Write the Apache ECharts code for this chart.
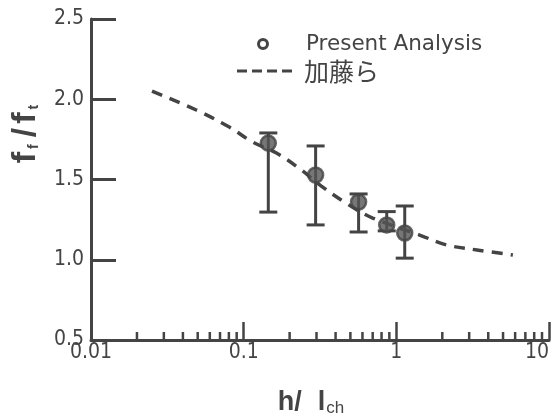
<!DOCTYPE html>
<html><head><meta charset="utf-8">
<script src="https://cdn.jsdelivr.net/npm/echarts@6/dist/echarts.min.js"></script>
<style>html,body{margin:0;padding:0;background:#fff}#c{width:558px;height:420px}</style>
</head><body><div id="c"></div>
<script>
// Present Analysis points (h/lch, ff/ft) with error bars
const xPoints = [0.145, 0.296, 0.566, 0.865, 1.135];
const yPoints = [1.727, 1.528, 1.36, 1.217, 1.167];
const yHigh   = [1.79, 1.709, 1.41, 1.30, 1.335];
const yLow    = [1.297, 1.217, 1.173, 1.18, 1.01];
// 加藤ら curve
const curveX = [0.0251, 0.0489, 0.0805, 0.114, 0.164, 0.239, 0.321, 0.49, 0.70, 1.42, 2.14, 3.37, 5.8];
const curveY = [2.051, 1.933, 1.827, 1.734, 1.665, 1.559, 1.46, 1.341, 1.26, 1.154, 1.092, 1.061, 1.03];
// axes
const xTickLabels = ['0.01', '0.1', '1', '10'];
const yTickLabels = ['0.5', '1.0', '1.5', '2.0', '2.5'];
const minorTickValues = [0.02,0.03,0.04,0.05,0.06,0.07,0.08,0.09,
                         0.2,0.3,0.4,0.5,0.6,0.7,0.8,0.9,
                         2,3,4,5,6,7,8,9];
const seriesNames = ['Present Analysis', '加藤ら'];

const INK = '#444';
const LBL = "'Liberation Sans Narrow','DejaVu Sans Condensed','Liberation Sans',sans-serif";
const SANS = "'Liberation Sans',sans-serif";

const chart = echarts.init(document.getElementById('c'), null, {renderer: 'canvas'});
const option = {
  backgroundColor: '#fff',
  animation: false,
  grid: {left: 91, right: 9, top: 19, bottom: 80, containLabel: false, outerBoundsMode: 'none'},
  xAxis: {
    type: 'log', logBase: 10, min: 0.01, max: 10,
    axisLine: {show: true, lineStyle: {color: INK, width: 3}},
    axisTick: {show: true, inside: true, length: 18, lineStyle: {color: INK, width: 2.5}},
    axisLabel: {color: INK, fontSize: 21, fontFamily: LBL, margin: 2, alignMaxLabel: 'right',
      formatter: function (v) {
        const i = Math.round(Math.log10(v) + 2);
        return xTickLabels[i] !== undefined ? xTickLabels[i] : '';
      }},
    splitLine: {show: false},
    name: '{a|h/}{b|l}{s|ch}', nameLocation: 'middle', nameGap: 48,
    nameTextStyle: {color: INK, fontSize: 27, fontFamily: SANS, padding: [0, 18, 0, 0],
      rich: {
        a: {fontSize: 27, fontWeight: 'bold', color: INK, fontFamily: SANS},
        b: {fontSize: 27, fontWeight: 'bold', color: INK, fontFamily: SANS, padding: [0, 0, 0, 16]},
        s: {fontSize: 17, color: INK, fontFamily: SANS, verticalAlign: 'bottom', padding: [12, 0, 0, 1]}}}
  },
  yAxis: {
    type: 'value', min: 0.5, max: 2.5, interval: 0.5,
    axisLine: {show: true, lineStyle: {color: INK, width: 3}},
    axisTick: {show: true, inside: true, length: 25, lineStyle: {color: INK, width: 3}},
    axisLabel: {color: INK, fontSize: 21, fontFamily: LBL, margin: 7,
      formatter: function (v) {
        const i = Math.round((v - 0.5) / 0.5);
        return yTickLabels[i] !== undefined ? yTickLabels[i] : '';
      }},
    splitLine: {show: false},
    name: '{a|f}{s|f}{b|/}{a|f}{s|t}', nameLocation: 'middle', nameGap: 48, nameRotate: 90,
    nameTextStyle: {color: INK, fontSize: 34, fontWeight: 'bold', fontFamily: SANS,
      padding: [0, 0, 0, 94],
      rich: {
        a: {fontSize: 34, fontWeight: 'bold', color: INK, fontFamily: SANS},
        b: {fontSize: 34, fontWeight: 'bold', color: INK, fontFamily: SANS, padding: [0, 4, 0, 4]},
        s: {fontSize: 14, color: INK, fontFamily: SANS, padding: [16, 3, 0, 3]}}}
  },
  series: [
    {
      type: 'custom', name: 'minorTicks', silent: true, clip: false, z: 3,
      data: minorTickValues.map(v => [v, 0.5]),
      renderItem: function (params, api) {
        const p = api.coord([api.value(0), api.value(1)]);
        return {type: 'line', shape: {x1: p[0], y1: p[1], x2: p[0], y2: p[1] - 8},
          style: {stroke: INK, lineWidth: 2.5}};
      }
    },
    {
      type: 'line', name: seriesNames[1], smooth: 0.35, showSymbol: false, z: 2,
      data: curveX.map((x, i) => [x, curveY[i]]),
      lineStyle: {color: INK, width: 3.5, type: [11, 8]}
    },
    {
      type: 'custom', name: 'errorBars', z: 4, clip: false,
      data: xPoints.map((x, i) => [x, yLow[i], yHigh[i]]),
      renderItem: function (params, api) {
        const lo = api.coord([api.value(0), api.value(1)]);
        const hi = api.coord([api.value(0), api.value(2)]);
        const w = 9;
        const st = {stroke: INK, lineWidth: 3};
        return {type: 'group', children: [
          {type: 'line', shape: {x1: lo[0], y1: lo[1], x2: hi[0], y2: hi[1]}, style: st},
          {type: 'line', shape: {x1: lo[0] - w, y1: lo[1], x2: lo[0] + w, y2: lo[1]}, style: st},
          {type: 'line', shape: {x1: hi[0] - w, y1: hi[1], x2: hi[0] + w, y2: hi[1]}, style: st}
        ]};
      }
    },
    {
      type: 'scatter', name: seriesNames[0], z: 5,
      data: xPoints.map((x, i) => [x, yPoints[i]]),
      symbol: 'circle', symbolSize: 15,
      itemStyle: {color: '#555', borderColor: INK, borderWidth: 2.5}
    }
  ],
  graphic: [
    {type: 'circle', shape: {cx: 263, cy: 44, r: 4.5}, style: {fill: 'none', stroke: INK, lineWidth: 3}},
    {type: 'text', x: 306, y: 44, style: {text: seriesNames[0], fill: INK, fontSize: 21.5,
      fontFamily: "'DejaVu Sans',sans-serif", verticalAlign: 'middle'}},
    {type: 'line', shape: {x1: 237, y1: 71, x2: 292, y2: 71}, style: {stroke: INK, lineWidth: 3, lineDash: [10, 5]}},
    {type: 'text', x: 304, y: 71, style: {text: seriesNames[1], fill: INK, fontSize: 25,
      fontFamily: "'Noto Sans CJK JP',sans-serif", verticalAlign: 'middle'}}
  ]
};
chart.setOption(option);
</script></body></html>
